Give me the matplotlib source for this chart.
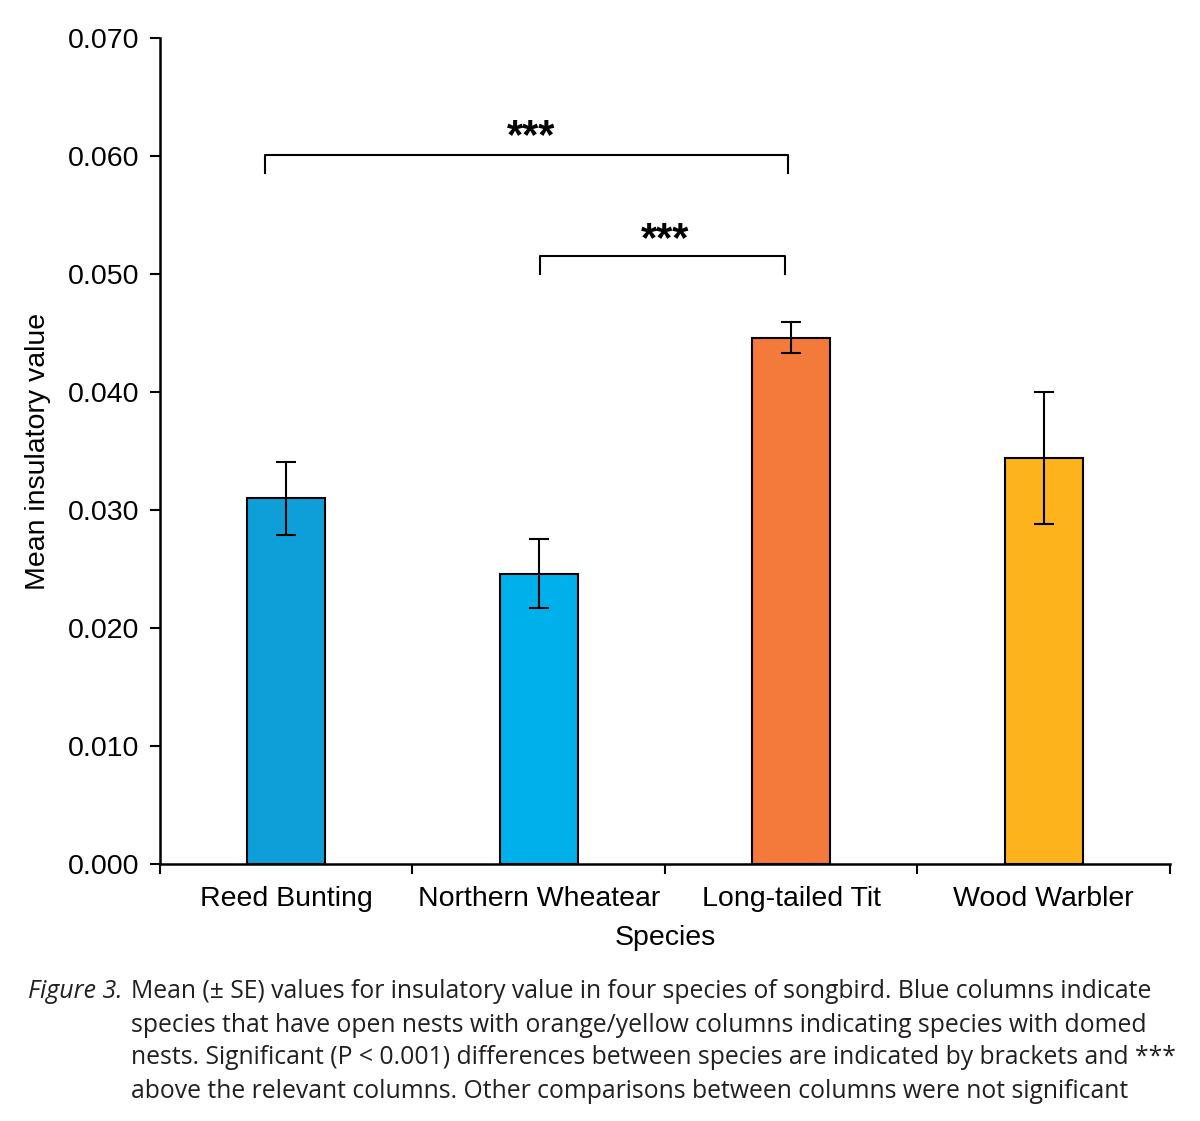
import numpy as np
import matplotlib
matplotlib.use("Agg")
import matplotlib.pyplot as plt

species = ["Reed Bunting", "Northern Wheatear", "Long-tailed Tit", "Wood Warbler"]
means = [0.0310, 0.0246, 0.0446, 0.0344]
se = [0.0031, 0.0029, 0.0013, 0.0056]
colors = ["#0E9FD8", "#00B0EB", "#F47A3C", "#FDB41C"]
yticks = [0.000, 0.010, 0.020, 0.030, 0.040, 0.050, 0.060, 0.070]

# significance brackets: (x left, x right, y top, drop, star x, star baseline y)
brackets = [(-0.084, 1.987, 0.0601, 0.0015, 0.97, 0.0607),
            (1.005, 1.975, 0.0515, 0.0015, 1.50, 0.0519)]

caption = [
    "Mean (\u00b1 SE) values for insulatory value in four species of songbird. Blue columns indicate",
    "species that have open nests with orange/yellow columns indicating species with domed",
    "nests. Significant (P < 0.001) differences between species are indicated by brackets and ***",
    "above the relevant columns. Other comparisons between columns were not significant",
]

plt.rcParams["font.family"] = ["Liberation Sans", "DejaVu Sans"]

fig = plt.figure(figsize=(12, 11.21), dpi=100)
ax = fig.add_axes([0.1333, 0.2293, 0.8417, 0.7368])

x = np.arange(len(species))
ax.bar(x, means, width=0.31, color=colors, edgecolor="black", linewidth=1.5, zorder=2)
ax.errorbar(x, means, yerr=se, fmt="none", ecolor="black", elinewidth=1.5,
            capsize=7, capthick=1.5, zorder=3)

ax.set_xlim(-0.5, len(species) - 0.5)
ax.set_ylim(0, 0.070)
ax.set_yticks(yticks)
ax.set_yticklabels([f"{v:.3f}" for v in yticks])
ax.set_xticks(np.arange(-0.5, len(species)))
ax.set_xticklabels([])
ax.set_xticks(x, minor=True)
ax.set_xticklabels(species, minor=True)
ax.tick_params(axis="x", which="minor", length=0, pad=16, labelsize=20.5)
ax.tick_params(axis="x", which="major", length=7, width=1.5, direction="out")
ax.tick_params(axis="y", length=7, width=1.5, direction="out", pad=8, labelsize=20.5)

for s in ["top", "right"]:
    ax.spines[s].set_visible(False)
for s in ["left", "bottom"]:
    ax.spines[s].set_linewidth(1.8)

ax.set_ylabel("Mean insulatory value", fontsize=20.5, labelpad=12)
ax.set_xlabel("Species", fontsize=20.5, labelpad=9)

for x1, x2, ytop, drop, sx, sy in brackets:
    ax.plot([x1, x1, x2, x2], [ytop - drop, ytop, ytop, ytop - drop],
            color="black", linewidth=1.5, clip_on=False)
    ax.text(sx, sy, "***", ha="center", va="baseline", fontsize=30,
            fontweight="bold")

cap_font = ["Open Sans", "DejaVu Sans"]
fig.text(28 / 1200, 1 - 992 / 1121, "Figure 3.", style="italic", fontsize=18,
         family=cap_font, va="center", ha="left", color="#231F20")
for i, line in enumerate(caption):
    fig.text(131 / 1200, 1 - (992 + 33 * i) / 1121, line, fontsize=17.8,
             family=cap_font, va="center", ha="left", color="#231F20")

fig.savefig("out.png", dpi=100)
